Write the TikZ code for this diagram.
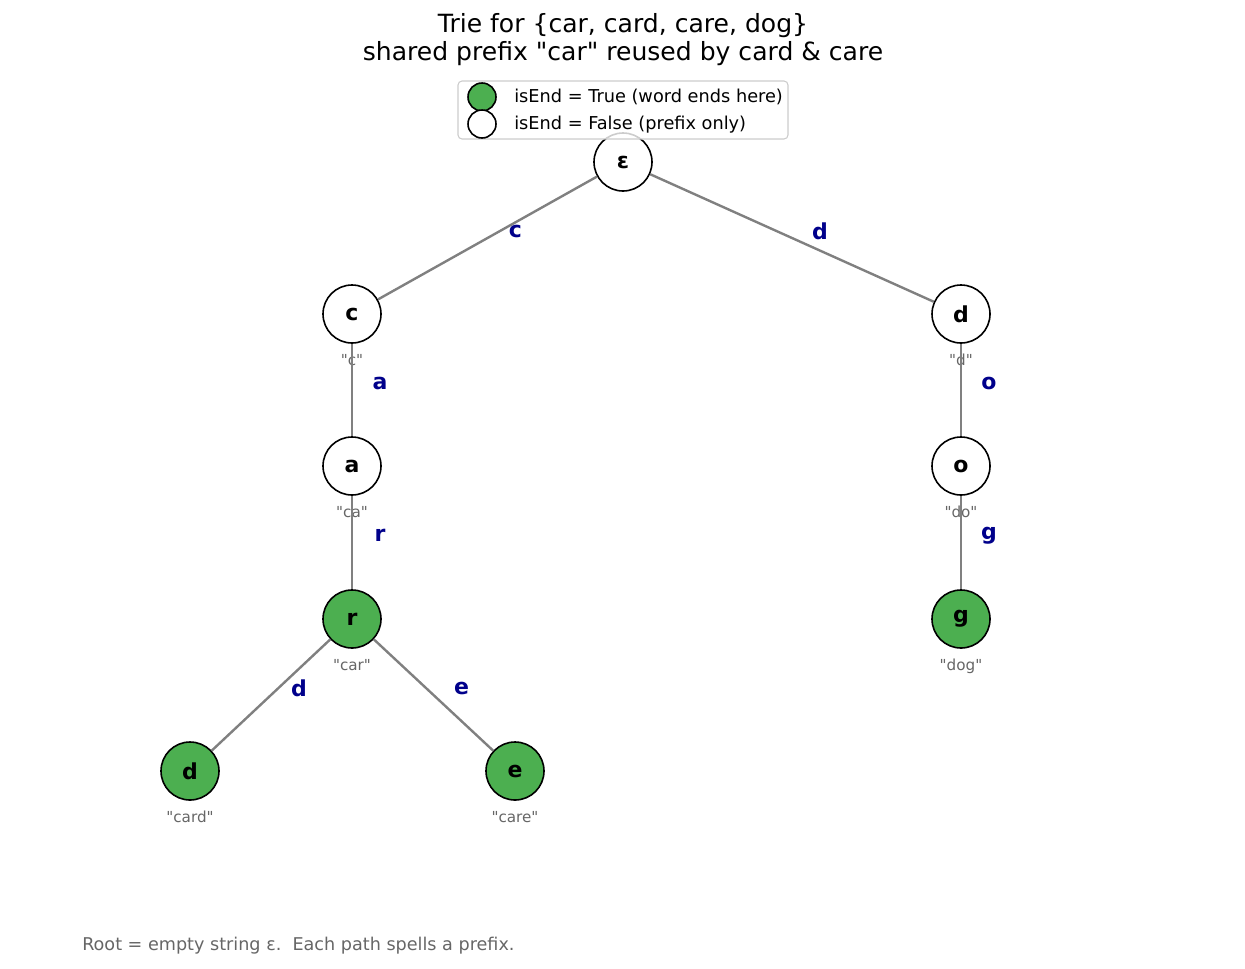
\documentclass[tikz,border=0pt]{standalone}
\usepackage{fontspec}
\setmainfont{DejaVu Sans}[Ligatures=TeXOff]
\definecolor{endgreen}{HTML}{4CAF50}
\definecolor{edgegray}{HTML}{808080}
\definecolor{letterblue}{HTML}{00008B}
\definecolor{prefixgray}{HTML}{666666}
\definecolor{framegray}{HTML}{CCCCCC}
\tikzset{
  trie/.style = {circle, draw=black, line width=1.2pt, fill=white,
    minimum size=43.5pt, inner sep=0pt, font=\fontsize{16.5}{19}\selectfont\bfseries},
  isend/.style = {trie, fill=endgreen},
  pathlabel/.style = {anchor=base, label distance=16.5pt, text=prefixgray,
    font=\fontsize{11.4}{13}\selectfont},
  trieedge/.style = {draw=edgegray, line width=1.8pt},
  edgeletter/.style = {midway, xshift=21pt, yshift=5.25pt, text=letterblue,
    font=\fontsize{16.5}{19}\selectfont\bfseries},
  legendtext/.style = {anchor=west, inner sep=0pt, font=\fontsize{13.3}{16}\selectfont}
}

\begin{document}
\begin{tikzpicture}[x=0.75pt, y=-0.75pt]
  \useasboundingbox (0,0) rectangle (1245,968);
  \node[align=center, font=\fontsize{18.8}{21}\selectfont] (title) at (623,40)
    {Trie for \{car, card, care, dog\}\\shared prefix "car" reused by card \& care};
  % trie nodes
  \node[trie] (root) at (623,162) {ε};
  \node[trie, label={[pathlabel]below:"c"}] (c) at (352,314) {c};
  \node[trie, label={[pathlabel]below:"ca"}] (ca) at (352,466) {a};
  \node[isend, label={[pathlabel]below:"car"}] (car) at (352,619) {r};
  \node[isend, label={[pathlabel]below:"card"}] (card) at (190,771) {d};
  \node[isend, label={[pathlabel]below:"care"}] (care) at (515,771) {e};
  \node[trie, label={[pathlabel]below:"d"}] (d) at (961,314) {d};
  \node[trie, label={[pathlabel]below:"do"}] (do) at (961,466) {o};
  \node[isend, label={[pathlabel]below:"dog"}] (dog) at (961,619) {g};
  % edges
  \draw[trieedge] (root) -- node[edgeletter] {c} (c);
  \draw[trieedge] (root) -- node[edgeletter] {d} (d);
  \draw[trieedge] (c) -- node[edgeletter] {a} (ca);
  \draw[trieedge] (ca) -- node[edgeletter] {r} (car);
  \draw[trieedge] (car) -- node[edgeletter] {d} (card);
  \draw[trieedge] (car) -- node[edgeletter] {e} (care);
  \draw[trieedge] (d) -- node[edgeletter] {o} (do);
  \draw[trieedge] (do) -- node[edgeletter] {g} (dog);
  % legend
  \draw[framegray, fill=white, fill opacity=0.8, rounded corners=3pt, line width=0.8pt]
    (458,81) rectangle (788,139);
  \node[isend, minimum size=21pt] (keytrue) at (482,97) {};
  \node[trie, minimum size=21pt] (keyfalse) at (482,124) {};
  \node[legendtext] (texttrue) at (514,97) {isEnd = True (word ends here)};
  \node[legendtext] (textfalse) at (514,124.5) {isEnd = False (prefix only)};
  \node[anchor=west, inner sep=0pt, text=prefixgray, font=\fontsize{13.2}{15}\selectfont]
    (footer) at (82,945.5) {Root = empty string ε.\ \ Each path spells a prefix.};
\end{tikzpicture}
\end{document}
